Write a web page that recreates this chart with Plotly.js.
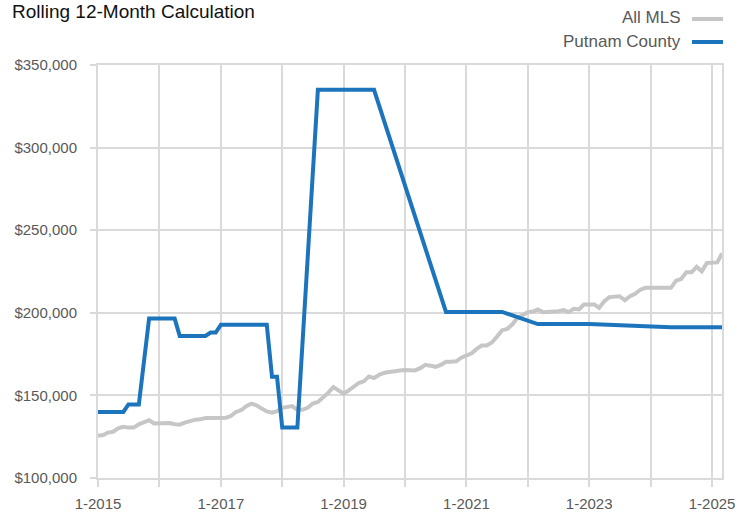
<!DOCTYPE html>
<html>
<head>
<meta charset="utf-8">
<script src="https://cdn.plot.ly/plotly-3.0.1.min.js"></script>
<style>
  html, body { margin: 0; padding: 0; background: #fff; }
  #chart { width: 748px; height: 514px; }
</style>
</head>
<body>
<div id="chart"></div>
<script>
// ---- Data ----
const chartTitle = "Rolling 12-Month Calculation";
const seriesNames = ["All MLS", "Putnam County"];

// All MLS: monthly values, Jan 2015 .. Mar 2025
const allMlsStart = [2015, 1];
const allMlsValues = [
  125500, 126000, 127500, 128000, 130000, 131000, 130500, 130500, 132500, 134000, 135000, 133000,
  133000, 133500, 133300, 132500, 132300, 133500, 134300, 135300, 135500, 136300, 136300, 136500,
  136700, 136500, 137500, 140000, 141000, 143500, 145000, 144000, 142000, 140300, 139500, 140500,
  142500, 143300, 143500, 141200, 141300, 142500, 145000, 146000, 148500, 151500, 155000, 153000,
  151000, 153000, 155000, 157500, 158500, 161500, 160500, 162500, 163700, 164300, 164700, 165100,
  165300, 165000, 165100, 166500, 168500, 168000, 167300, 168500, 170400, 170400, 170600, 172800,
  174000, 175500, 178000, 180200, 180200, 182000, 185500, 189500, 190300, 193000, 197000, 199000,
  200400, 200800, 202000, 200400, 200400, 200400, 201000, 201600, 200400, 202400, 202000, 205000,
  205000, 205000, 203000, 207000, 209500, 210000, 210000, 207600, 210000, 211500, 214000, 215100,
  215100, 215400, 215700, 215700, 215100, 219500, 220500, 224500, 224500, 227800, 225100, 230200,
  230200, 230500, 235900
];

// Putnam County: months with reported values (line joins them)
const putnamDates = [
  "2015-01-01", "2015-06-01", "2015-07-01", "2015-09-01", "2015-11-01", "2016-04-01",
  "2016-05-01", "2016-10-01", "2016-11-01", "2016-12-01", "2017-01-01", "2017-10-01",
  "2017-11-01", "2017-12-01", "2018-01-01", "2018-04-01", "2018-08-01", "2019-07-01",
  "2020-09-01", "2021-08-01", "2022-03-01", "2023-01-01", "2024-05-01", "2025-03-01"
];
const putnamValues = [
  140000, 140000, 144500, 144500, 196500, 196500,
  186000, 186000, 188000, 188000, 192700, 192700,
  161300, 161300, 130500, 130500, 335000, 335000,
  200500, 200500, 193200, 193200, 191300, 191300
];

// Axis ticks
const xTickDates = ["2015-01-01","2016-01-01","2017-01-01","2018-01-01","2019-01-01","2020-01-01",
                    "2021-01-01","2022-01-01","2023-01-01","2024-01-01","2025-01-01"];
const xTickLabels = ["1-2015","","1-2017","","1-2019","","1-2021","","1-2023","","1-2025"];
const yTickValues = [100000, 150000, 200000, 250000, 300000, 350000];

// ---- Build ----
const allMlsDates = allMlsValues.map((_, i) => {
  const m0 = allMlsStart[1] - 1 + i;
  const y = allMlsStart[0] + Math.floor(m0 / 12);
  const m = (m0 % 12) + 1;
  return y + "-" + String(m).padStart(2, "0") + "-01";
});

const GRAY = "#c6c6c6";
const BLUE = "#1c75bc";
const GRID = "#dadada";
const TXT = "#595959";
const FONT = "'Liberation Sans', Arial, Helvetica, sans-serif";

const traces = [
  { x: allMlsDates, y: allMlsValues, type: "scatter", mode: "lines", name: seriesNames[0],
    line: { color: GRAY, width: 4 }, hoverinfo: "skip" },
  { x: putnamDates, y: putnamValues, type: "scatter", mode: "lines", name: seriesNames[1],
    line: { color: BLUE, width: 4 }, hoverinfo: "skip" }
];

const W = 748, H = 514, ML = 98, MR = 26, MT = 65, MB = 36;
const px2paperX = px => (px - ML) / (W - ML - MR);
const px2paperY = py => 1 - (py - MT) / (H - MT - MB);

const layout = {
  width: W, height: H,
  margin: { l: ML, r: MR, t: MT, b: MB, pad: 0 },
  paper_bgcolor: "#fff", plot_bgcolor: "#fff",
  showlegend: false,
  font: { family: FONT, color: TXT, size: 15 },
  title: { text: chartTitle, x: 12 / W, xanchor: "left", xref: "container",
           y: 1 - 11 / H, yanchor: "middle", yref: "container",
           font: { family: FONT, size: 19, color: "#111" } },
  xaxis: {
    type: "date", range: ["2015-01-01", "2025-03-01"],
    tickmode: "array", tickvals: xTickDates, ticktext: xTickLabels,
    showgrid: true, gridcolor: GRID, gridwidth: 2,
    ticks: "outside", ticklen: 7, tickwidth: 2, tickcolor: GRID,
    showline: true, mirror: true, linecolor: GRID, linewidth: 2,
    zeroline: false, tickfont: { family: FONT, size: 15, color: TXT },
    ticklabelstandoff: 4, fixedrange: true
  },
  yaxis: {
    range: [100000, 350000],
    tickmode: "array", tickvals: yTickValues, tickformat: "$,.0f",
    showgrid: true, gridcolor: GRID, gridwidth: 2,
    ticks: "outside", ticklen: 6, tickwidth: 2, tickcolor: GRID,
    showline: true, mirror: true, linecolor: GRID, linewidth: 2,
    zeroline: false, tickfont: { family: FONT, size: 15, color: TXT },
    ticklabelstandoff: 10, fixedrange: true
  },
  annotations: [
    { text: seriesNames[0], xref: "paper", yref: "paper", x: px2paperX(683), y: px2paperY(18),
      xanchor: "right", yanchor: "middle", showarrow: false,
      font: { family: FONT, size: 17, color: TXT } },
    { text: seriesNames[1], xref: "paper", yref: "paper", x: px2paperX(683), y: px2paperY(41),
      xanchor: "right", yanchor: "middle", showarrow: false,
      font: { family: FONT, size: 17, color: TXT } }
  ],
  shapes: [
    { type: "line", xref: "paper", yref: "paper",
      x0: px2paperX(692), x1: px2paperX(723), y0: px2paperY(19), y1: px2paperY(19),
      line: { color: GRAY, width: 4 } },
    { type: "line", xref: "paper", yref: "paper",
      x0: px2paperX(692), x1: px2paperX(723), y0: px2paperY(42), y1: px2paperY(42),
      line: { color: BLUE, width: 4 } }
  ]
};

Plotly.newPlot("chart", traces, layout, { displayModeBar: false, staticPlot: true });
</script>
</body>
</html>
